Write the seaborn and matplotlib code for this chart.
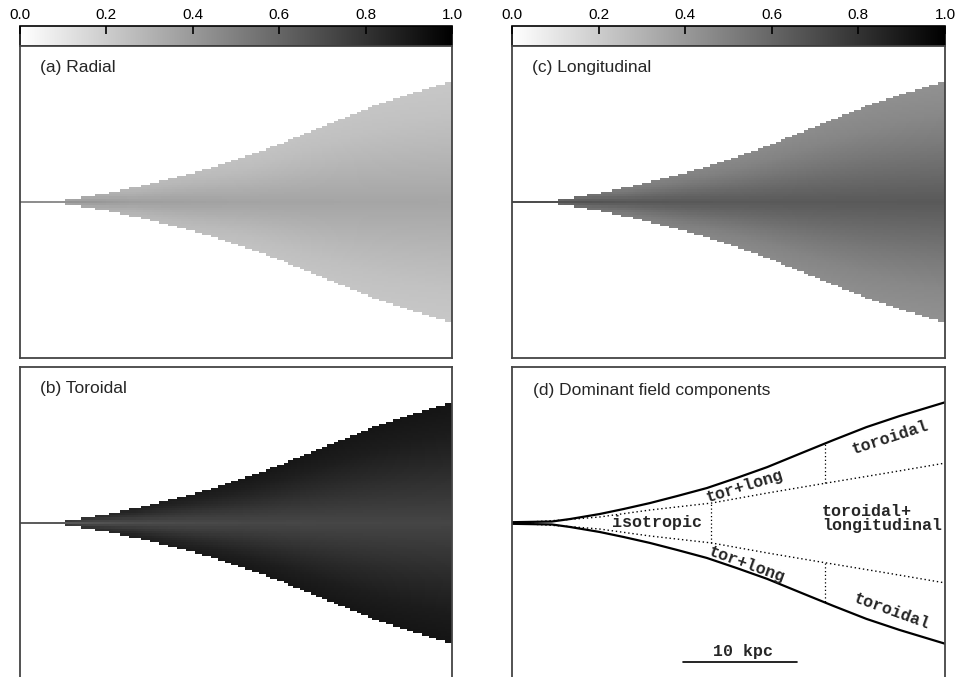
import numpy as np
import pandas as pd
import matplotlib
matplotlib.use("Agg")
import matplotlib.pyplot as plt
import seaborn as sns

jet_z = [0.0, 3.5, 5.1, 7.7, 9.8, 12.1, 14.5, 17.1, 19.7, 22.4, 25.4, 28.2, 31.1, 34.0, 38.0]
jet_r = [0.07, 0.13, 0.35, 0.79, 1.23, 1.75, 2.37, 3.07, 3.95, 4.91, 6.14, 7.28, 8.42, 9.39, 10.6]

# inner (dotted) boundary of panel (d)
inner_z = [0.0, 4.4, 7.7, 12.1, 17.5, 22.4, 27.6, 32.9, 38.0]
inner_r = [0.0, 0.26, 0.53, 1.14, 1.75, 2.63, 3.51, 4.39, 5.26]

# where the regions change (kpc along the jet)
split_inner = 17.5
split_outer = 27.5

# grey level of each component: centre and edge of the jet, along the axis
prof_z = [0, 5, 10, 20, 38]
radial_centre = [0.45, 0.42, 0.38, 0.36, 0.35]
radial_edge = [0.40, 0.34, 0.28, 0.24, 0.22]
long_centre = [0.70, 0.68, 0.66, 0.65, 0.65]
long_edge = [0.65, 0.58, 0.50, 0.46, 0.43]
tor_centre = [0.62, 0.66, 0.70, 0.72, 0.73]
tor_edge = [0.70, 0.80, 0.88, 0.91, 0.92]
# how the grey goes from centre (0) to edge (1) across the jet
shape_r = [0.0, 0.25, 0.5, 0.75, 1.0]
shape_v = [0.0, 0.3, 0.6, 0.85, 1.0]

cbar_ticks = [0.0, 0.2, 0.4, 0.6, 0.8, 1.0]

DZ = 0.2
NX = 190
NY = 137


def make_field(centre, edge):
    zc = (np.arange(NX) + 0.5) * DZ
    yc = ((NY - 1) / 2 - np.arange(NY)) * DZ
    Z, Y = np.meshgrid(zc, yc)
    R = np.interp(Z, jet_z, jet_r)
    s = np.abs(Y) / R
    c = np.interp(Z, prof_z, centre)
    e = np.interp(Z, prof_z, edge)
    val = c + (e - c) * np.interp(np.clip(s, 0, 1), shape_r, shape_v)
    return pd.DataFrame(val), s > 1


def frame(ax):
    for sp in ax.spines.values():
        sp.set_visible(True)
        sp.set_color("#444444")
        sp.set_linewidth(1.3)
    ax.set_xticks([])
    ax.set_yticks([])


def map_panel(ax, centre, edge, title, cax=None):
    df, mask = make_field(centre, edge)
    sns.heatmap(df, mask=mask, cmap="gray_r", vmin=0, vmax=1, ax=ax,
                xticklabels=False, yticklabels=False,
                cbar=cax is not None, cbar_ax=cax,
                cbar_kws={"orientation": "horizontal", "ticks": cbar_ticks})
    ax.set_ylim(NY, 0)
    ax.set_xlim(0, NX)
    frame(ax)
    ax.text(0.046, 0.93, title, transform=ax.transAxes, fontsize=12.5,
            ha="left", va="center")
    if cax is not None:
        cax.set_axisbelow(False)
        cax.xaxis.set_ticks_position("top")
        cax.xaxis.set_label_position("top")
        cax.tick_params(axis="x", which="major", direction="in", length=6,
                        width=1.2, pad=3, labelsize=11, colors="black",
                        top=True, bottom=False)
        cax.set_xticklabels([f"{t:.1f}" for t in cbar_ticks])
        cb = ax.collections[0].colorbar
        cb.outline.set_visible(True)
        cb.outline.set_edgecolor("black")
        cb.outline.set_linewidth(1.2)


sns.set_style("white")
plt.rcParams["font.family"] = ["Liberation Sans", "DejaVu Sans"]

fig = plt.figure(figsize=(9.57, 6.77), dpi=100)
W, H = 957, 677


def px_axes(x0, y0, w, h):
    return fig.add_axes([x0 / W, 1 - (y0 + h) / H, w / W, h / H])


cax_l = px_axes(20, 26, 432, 20)
cax_r = px_axes(512, 26, 433, 20)
ax_a = px_axes(20, 46, 432, 312)
ax_b = px_axes(20, 367, 432, 312)
ax_c = px_axes(512, 46, 433, 312)
ax_d = px_axes(512, 367, 433, 312)

map_panel(ax_a, radial_centre, radial_edge, "(a) Radial", cax_l)
map_panel(ax_b, tor_centre, tor_edge, "(b) Toroidal")
map_panel(ax_c, long_centre, long_edge, "(c) Longitudinal", cax_r)

# panel (d): region sketch
jz = np.array(jet_z)
jr = np.array(jet_r)
iz = np.array(inner_z)
ir = np.array(inner_r)
for sign in (1, -1):
    sns.lineplot(x=jz, y=sign * jr, ax=ax_d, color="black", lw=1.6, sort=False)
    sns.lineplot(x=iz, y=sign * ir, ax=ax_d, color="black", lw=1.0,
                 ls=(0, (1, 2)), sort=False)
r_in1 = np.interp(split_inner, inner_z, inner_r)
ax_d.vlines(split_inner, -r_in1, r_in1, colors="black", lw=0.9, linestyles=(0, (1, 2)))
r_in2 = np.interp(split_outer, inner_z, inner_r)
r_out2 = np.interp(split_outer, jet_z, jet_r)
for sign in (1, -1):
    ax_d.vlines(split_outer, sign * r_in2, sign * r_out2, colors="black", lw=0.9,
                linestyles=(0, (1, 2)))

mono = dict(family=["Liberation Mono", "DejaVu Sans Mono"], fontsize=12,
            fontweight="bold", ha="center", va="center")
ax_d.text(33.2, 7.5, "toroidal", rotation=18, **mono)
ax_d.text(20.4, 3.2, "tor+long", rotation=17, **mono)
ax_d.text(12.7, 0.0, "isotropic", **mono)
ax_d.text(27.2, 0.4, "toroidal+\nlongitudinal", multialignment="left",
          linespacing=0.95, **{**mono, "ha": "left"})
ax_d.text(20.6, -3.7, "tor+long", rotation=-20, **mono)
ax_d.text(33.3, -7.8, "toroidal", rotation=-20, **mono)

scale_start = 15.0
scale_len = 10
ax_d.plot([scale_start, scale_start + scale_len], [-12.2, -12.2], color="black", lw=1.2)
ax_d.text(scale_start + scale_len / 2 + 0.3, -11.9, f"{scale_len} kpc",
          **{**mono, "va": "bottom"})

ax_d.set_xlim(0, 38)
ax_d.set_ylim(-13.7, 13.7)
frame(ax_d)
ax_d.text(0.048, 0.926, "(d) Dominant field components", transform=ax_d.transAxes,
          fontsize=12.5, ha="left", va="center")

fig.savefig("out.png", dpi=100)
